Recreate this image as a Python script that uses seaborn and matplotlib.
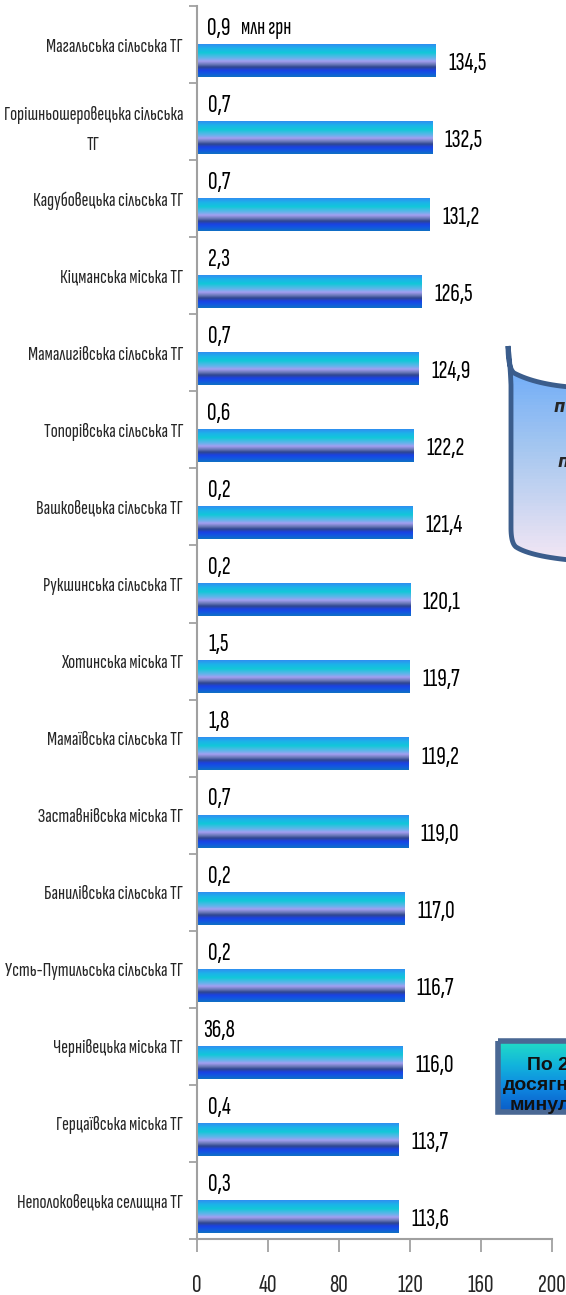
"""
Рейтинг ТГ за темпом росту надходжень (горизонтальні смуги з градієнтом).
"""

import numpy as np
import pandas as pd
import matplotlib
matplotlib.use("Agg")
import matplotlib.pyplot as plt
import seaborn as sns
from matplotlib.colors import LinearSegmentedColormap
from matplotlib.patches import Polygon, Rectangle

# --- Data ---
communities = [
    "Магальська сільська ТГ",
    "Горішньошеровецька сільська\nТГ",
    "Кадубовецька сільська ТГ",
    "Кіцманська міська ТГ",
    "Мамалигівська сільська ТГ",
    "Топорівська сільська ТГ",
    "Вашковецька сільська ТГ",
    "Рукшинська сільська ТГ",
    "Хотинська міська ТГ",
    "Мамаївська сільська ТГ",
    "Заставнівська міська ТГ",
    "Банилівська сільська ТГ",
    "Усть-Путильська сільська ТГ",
    "Чернівецька міська ТГ",
    "Герцаївська міська ТГ",
    "Неполоковецька селищна ТГ",
]
growth_pct = [134.5, 132.5, 131.2, 126.5, 124.9, 122.2, 121.4, 120.1,
              119.7, 119.2, 119.0, 117.0, 116.7, 116.0, 113.7, 113.6]
amount_mln = [0.9, 0.7, 0.7, 2.3, 0.7, 0.6, 0.2, 0.2,
              1.5, 1.8, 0.7, 0.2, 0.2, 36.8, 0.4, 0.3]
x_ticks = [0, 40, 80, 120, 160, 200]

df = pd.DataFrame({
    "community": communities * 2,
    "value": amount_mln + growth_pct,
    "series": ["млн грн"] * len(communities) + ["%"] * len(communities),
})

# --- Style ---
sns.set_theme(style="white")
FONT = ["Sofia Sans Extra Condensed", "PT Sans Narrow", "DejaVu Sans"]
plt.rcParams["font.family"] = FONT

fig = plt.figure(figsize=(5.66, 12.95), dpi=100)
ax = fig.add_axes([197 / 566, 1 - 1239 / 1295, (552 - 197) / 566, (1239 - 6) / 1295])

sns.barplot(data=df, y="community", x="value", hue="series",
            hue_order=["млн грн", "%"], orient="h", width=0.84,
            palette=["#ffffff", "#1e7fe0"], legend=False, ax=ax)

# bar gradient: blue / cyan / lavender / dark / blue stripes
bar_cmap = LinearSegmentedColormap.from_list("bar", [
    (0.00, "#2f8ff0"), (0.12, "#1cb2ea"), (0.26, "#12c8d8"),
    (0.42, "#62b4ea"), (0.52, "#a4a0f2"), (0.62, "#6a78b8"),
    (0.70, "#2f4690"), (0.80, "#1a42e4"), (0.90, "#1258e0"),
    (1.00, "#0f70c4"),
])
grad = np.linspace(0, 1, 64).reshape(-1, 1)

small_bars, main_bars = ax.containers[0], ax.containers[1]

for patch in small_bars:
    patch.set_visible(False)   # only the labels of this series are shown

for patch in main_bars:
    x0, y0 = patch.get_x(), patch.get_y()
    w, h = patch.get_width(), patch.get_height()
    patch.set_facecolor("none")
    patch.set_edgecolor("none")
    ax.imshow(grad, cmap=bar_cmap, aspect="auto", origin="upper",
              extent=(x0, x0 + w, y0 + h, y0), zorder=2, interpolation="bilinear")

# labels of main series at bar end
for patch, val in zip(main_bars, growth_pct):
    yc = patch.get_y() + patch.get_height() / 2
    ax.annotate(f"{val:.1f}".replace(".", ","), (patch.get_width(), yc),
                xytext=(9, -2), textcoords="offset points",
                ha="left", va="center", fontsize=19, color="black", zorder=5)

# labels of the "млн грн" series above each bar
for patch, val in zip(small_bars, amount_mln):
    yc = patch.get_y() + patch.get_height() / 2
    ax.text(12.4, yc, f"{val:.1f}".replace(".", ","), ha="center", va="center",
            fontsize=19, color="black", zorder=5)
first = small_bars[0]
ax.text(24.8, first.get_y() + first.get_height() / 2, "млн грн",
        ha="left", va="center", fontsize=17, color="black", zorder=5)

# axes
n = len(communities)
ax.set_xlim(0, 200)
ax.set_ylim(n - 0.5, -0.5)
ax.set_xticks(x_ticks)
ax.set_xticklabels([str(t) for t in x_ticks], fontsize=19)
ax.set_yticks(range(n))
ax.set_yticklabels(communities, fontsize=15, linespacing=1.9)
ax.set_yticks(np.arange(-0.5, n, 1), minor=True)
ax.tick_params(axis="y", which="major", length=0, pad=10)
ax.tick_params(axis="y", which="minor", length=6, width=1.2, color="#9a9a9a", left=True)
ax.tick_params(axis="x", length=9, width=1.2, color="#9a9a9a", pad=16, bottom=True)
for lbl in ax.get_yticklabels():
    lbl.set_horizontalalignment("right")
    lbl.set_multialignment("center")
ax.set_xlabel("")
ax.set_ylabel("")
sns.despine(ax=ax, top=True, right=True)
for side in ["left", "bottom"]:
    ax.spines[side].set_color("#a0a0a0")
    ax.spines[side].set_linewidth(1.5)

# --- decorative callouts on the right edge (cut off in the original) ---
over = fig.add_axes([0, 0, 1, 1], zorder=10)
over.axis("off")


def qbez(p0, c, p1, k=16):
    t = np.linspace(0, 1, k)[:, None]
    p0, c, p1 = map(np.asarray, (p0, c, p1))
    return (1 - t) ** 2 * p0 + 2 * (1 - t) * t * c + t ** 2 * p1


outline = np.vstack([
    qbez((508, 346), (508, 368), (514, 373)),
    qbez((514, 373), (535, 384), (570, 387)),
    [(570, 560)],
    qbez((570, 560), (530, 556), (516, 547)),
    qbez((516, 547), (511, 543), (511, 528)),
    [(511, 385)],
    qbez((511, 385), (510, 362), (508, 346)),
])
scroll_patch = Polygon(outline, closed=True, facecolor="none",
                       edgecolor="#3b5d8c", lw=3.5, zorder=3)
over.add_patch(scroll_patch)
scroll_cmap = LinearSegmentedColormap.from_list("scroll", ["#62a6fa", "#a8c8f0", "#f2e6f4"])
img = over.imshow(np.linspace(0, 1, 64).reshape(-1, 1), cmap=scroll_cmap, aspect="auto",
                  extent=(505, 570, 560, 345), origin="upper", zorder=2)
img.set_clip_path(scroll_patch)
over.text(554, 407, "п", fontsize=12, style="italic", fontweight="bold",
          family=["DejaVu Sans"], va="center", ha="left", zorder=4)
over.text(558, 462, "п", fontsize=12, style="italic", fontweight="bold",
          family=["DejaVu Sans"], va="center", ha="left", zorder=4)

box = Rectangle((498, 1041), 80, 71, facecolor="none", edgecolor="#4a6894", lw=4, zorder=3)
over.add_patch(box)
box_cmap = LinearSegmentedColormap.from_list("box", ["#22dcc6", "#12b4dc", "#0e86e0", "#0a5cc8"])
img2 = over.imshow(np.linspace(0, 1, 64).reshape(-1, 1), cmap=box_cmap, aspect="auto",
                   extent=(498, 578, 1112, 1041), origin="upper", zorder=2)
img2.set_clip_path(box)
for txt, x, y in [("По 2021", 527, 1065), ("досягнуто", 503, 1086), ("минулого", 510, 1106)]:
    over.text(x, y, txt, fontsize=14, fontweight="bold", family=["Liberation Sans", "DejaVu Sans"],
              va="center", ha="left", color="#111111", zorder=4)
over.set_xlim(0, 566)
over.set_ylim(1295, 0)

fig.savefig("out.png", dpi=100)
plt.close(fig)
